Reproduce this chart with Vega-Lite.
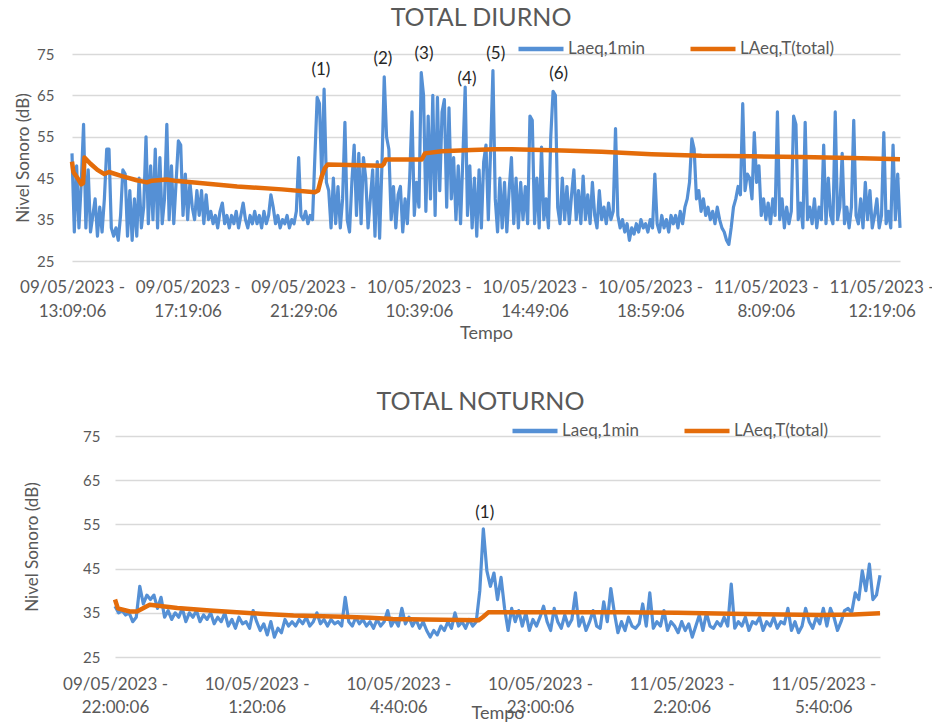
{
"$schema": "https://vega.github.io/schema/vega-lite/v6.json",
"background": "white",
"padding": {"left": 14, "top": 6, "right": 0, "bottom": 0},
"config": {
  "font": "Lato",
  "view": {"stroke": null},
  "axis": {"domain": false, "ticks": false, "gridColor": "#d9d9d9", "gridWidth": 1.5, "labelColor": "#595959", "titleColor": "#595959", "titleFontWeight": "normal", "labelFont": "Lato", "titleFont": "Lato"},
  "legend": {"labelColor": "#595959", "labelFont": "Lato"},
  "title": {"color": "#595959", "fontWeight": "normal", "fontSize": 25, "font": "Lato"}
},
"datasets": {
"dT": [
{"i":0,"v":51},{"i":5,"v":32},{"i":10,"v":48},{"i":15,"v":33},{"i":20,"v":44},{"i":25,"v":58},{"i":30,"v":33},{"i":35,"v":47},{"i":40,"v":32},{"i":45,"v":36},{"i":50,"v":40},{"i":55,"v":31},{"i":60,"v":38},{"i":65,"v":32},{"i":70,"v":40},{"i":75,"v":52},{"i":80,"v":52},{"i":85,"v":33},{"i":90,"v":31},{"i":95,"v":33},
{"i":100,"v":30},{"i":105,"v":36},{"i":110,"v":47},{"i":115,"v":46},{"i":120,"v":31},{"i":125,"v":42},{"i":130,"v":30},{"i":135,"v":40},{"i":140,"v":31},{"i":145,"v":45},{"i":150,"v":33},{"i":155,"v":38},{"i":160,"v":55},{"i":165,"v":34},{"i":170,"v":48},{"i":175,"v":35},{"i":180,"v":52},{"i":185,"v":33},{"i":190,"v":50},{"i":195,"v":34},
{"i":200,"v":40},{"i":205,"v":58},{"i":210,"v":35},{"i":215,"v":48},{"i":220,"v":34},{"i":225,"v":44},{"i":230,"v":54},{"i":235,"v":53},{"i":240,"v":36},{"i":245,"v":46},{"i":250,"v":35},{"i":255,"v":44},{"i":260,"v":38},{"i":265,"v":35},{"i":270,"v":42},{"i":275,"v":36},{"i":280,"v":42},{"i":285,"v":34},{"i":290,"v":41},{"i":295,"v":35},
{"i":300,"v":37},{"i":305,"v":34},{"i":310,"v":36},{"i":315,"v":33},{"i":320,"v":37},{"i":325,"v":39},{"i":330,"v":34},{"i":335,"v":36},{"i":340,"v":33},{"i":345,"v":36},{"i":350,"v":34},{"i":355,"v":37},{"i":360,"v":33},{"i":365,"v":36},{"i":370,"v":39},{"i":375,"v":35},{"i":380,"v":33},{"i":385,"v":36},{"i":390,"v":34},{"i":395,"v":37},
{"i":400,"v":34},{"i":405,"v":36},{"i":410,"v":33},{"i":415,"v":37},{"i":420,"v":34},{"i":425,"v":36},{"i":430,"v":41},{"i":435,"v":38},{"i":440,"v":34},{"i":445,"v":36},{"i":450,"v":33},{"i":455,"v":35},{"i":460,"v":34},{"i":465,"v":36},{"i":470,"v":33},{"i":475,"v":35},{"i":480,"v":34},{"i":485,"v":37},{"i":490,"v":50},{"i":495,"v":36},
{"i":500,"v":35},{"i":505,"v":37},{"i":510,"v":34},{"i":515,"v":36},{"i":520,"v":35},{"i":525,"v":50},{"i":530,"v":64.5},{"i":535,"v":63},{"i":540,"v":45},{"i":545,"v":66.5},{"i":550,"v":44},{"i":555,"v":42},{"i":560,"v":33},{"i":565,"v":45},{"i":570,"v":34},{"i":575,"v":43},{"i":580,"v":33},{"i":585,"v":40},{"i":590,"v":58.5},{"i":595,"v":35},
{"i":600,"v":32},{"i":605,"v":44},{"i":610,"v":53},{"i":615,"v":36},{"i":620,"v":51},{"i":625,"v":34},{"i":630,"v":50},{"i":635,"v":45},{"i":640,"v":33},{"i":645,"v":40},{"i":650,"v":47},{"i":655,"v":31},{"i":660,"v":49},{"i":665,"v":30.5},{"i":670,"v":48},{"i":675,"v":69.5},{"i":680,"v":55},{"i":685,"v":52},{"i":690,"v":35},{"i":695,"v":43},
{"i":700,"v":33},{"i":705,"v":41},{"i":710,"v":43},{"i":715,"v":32},{"i":720,"v":40},{"i":725,"v":34},{"i":730,"v":45},{"i":735,"v":61},{"i":740,"v":36},{"i":745,"v":44},{"i":750,"v":38},{"i":755,"v":70.5},{"i":760,"v":65},{"i":765,"v":37},{"i":770,"v":60},{"i":775,"v":40},{"i":780,"v":65},{"i":785,"v":36},{"i":790,"v":64.5},{"i":795,"v":42},
{"i":800,"v":61},{"i":805,"v":64},{"i":810,"v":38},{"i":815,"v":62},{"i":820,"v":40},{"i":825,"v":50},{"i":830,"v":35},{"i":835,"v":48},{"i":840,"v":34},{"i":845,"v":50},{"i":850,"v":67},{"i":855,"v":36},{"i":860,"v":48},{"i":865,"v":33},{"i":870,"v":45},{"i":875,"v":31},{"i":880,"v":47},{"i":885,"v":33},{"i":890,"v":49},{"i":895,"v":53},
{"i":900,"v":35},{"i":905,"v":52},{"i":910,"v":71},{"i":915,"v":40},{"i":920,"v":32},{"i":925,"v":45},{"i":930,"v":33},{"i":935,"v":44},{"i":940,"v":32},{"i":945,"v":42},{"i":950,"v":50},{"i":955,"v":34},{"i":960,"v":45},{"i":965,"v":33},{"i":970,"v":44},{"i":975,"v":35},{"i":980,"v":43},{"i":985,"v":34},{"i":990,"v":60},{"i":995,"v":59},
{"i":1000,"v":34},{"i":1005,"v":45},{"i":1010,"v":33},{"i":1015,"v":52.5},{"i":1020,"v":35},{"i":1025,"v":40},{"i":1030,"v":33},{"i":1035,"v":55},{"i":1040,"v":66},{"i":1045,"v":65},{"i":1050,"v":38},{"i":1055,"v":34},{"i":1060,"v":45},{"i":1065,"v":35},{"i":1070,"v":43},{"i":1075,"v":34},{"i":1080,"v":41},{"i":1085,"v":47},{"i":1090,"v":35},{"i":1095,"v":42},
{"i":1100,"v":34},{"i":1105,"v":45.5},{"i":1110,"v":35},{"i":1115,"v":41},{"i":1120,"v":34},{"i":1125,"v":44},{"i":1130,"v":36},{"i":1135,"v":33},{"i":1140,"v":42},{"i":1145,"v":35},{"i":1150,"v":38},{"i":1155,"v":34},{"i":1160,"v":39},{"i":1165,"v":35},{"i":1170,"v":37},{"i":1175,"v":57},{"i":1180,"v":36},{"i":1185,"v":33},{"i":1190,"v":35},{"i":1195,"v":32},
{"i":1200,"v":34},{"i":1205,"v":30},{"i":1210,"v":33},{"i":1215,"v":31.5},{"i":1220,"v":34},{"i":1225,"v":32},{"i":1230,"v":35},{"i":1235,"v":33},{"i":1240,"v":34},{"i":1245,"v":32},{"i":1250,"v":35},{"i":1255,"v":33},{"i":1260,"v":46},{"i":1265,"v":34},{"i":1270,"v":32},{"i":1275,"v":36},{"i":1280,"v":33},{"i":1285,"v":35},{"i":1290,"v":32},{"i":1295,"v":36},
{"i":1300,"v":34},{"i":1305,"v":36},{"i":1310,"v":33},{"i":1315,"v":37},{"i":1320,"v":34},{"i":1325,"v":38},{"i":1330,"v":40},{"i":1335,"v":44},{"i":1340,"v":54.5},{"i":1345,"v":52},{"i":1350,"v":40},{"i":1355,"v":42},{"i":1360,"v":37},{"i":1365,"v":40},{"i":1370,"v":36},{"i":1375,"v":38},{"i":1380,"v":35},{"i":1385,"v":37},{"i":1390,"v":34},{"i":1395,"v":38},
{"i":1400,"v":35},{"i":1405,"v":33},{"i":1410,"v":32},{"i":1415,"v":30},{"i":1420,"v":29},{"i":1425,"v":33},{"i":1430,"v":38},{"i":1435,"v":40},{"i":1440,"v":43},{"i":1445,"v":41},{"i":1450,"v":63},{"i":1455,"v":42},{"i":1460,"v":46},{"i":1465,"v":45},{"i":1470,"v":40},{"i":1475,"v":56},{"i":1480,"v":44},{"i":1485,"v":48},{"i":1490,"v":36},{"i":1495,"v":40},
{"i":1500,"v":35},{"i":1505,"v":39},{"i":1510,"v":34},{"i":1515,"v":40},{"i":1520,"v":36},{"i":1525,"v":61},{"i":1530,"v":35},{"i":1535,"v":40},{"i":1540,"v":33},{"i":1545,"v":38},{"i":1550,"v":34},{"i":1555,"v":37},{"i":1560,"v":60},{"i":1565,"v":58},{"i":1570,"v":35},{"i":1575,"v":39},{"i":1580,"v":33},{"i":1585,"v":58.5},{"i":1590,"v":35},{"i":1595,"v":38},
{"i":1600,"v":34},{"i":1605,"v":40},{"i":1610,"v":33},{"i":1615,"v":38},{"i":1620,"v":35},{"i":1625,"v":53},{"i":1630,"v":34},{"i":1635,"v":45},{"i":1640,"v":36},{"i":1645,"v":34},{"i":1650,"v":61},{"i":1655,"v":35},{"i":1660,"v":38},{"i":1665,"v":51},{"i":1670,"v":34},{"i":1675,"v":38},{"i":1680,"v":33},{"i":1685,"v":38},{"i":1690,"v":59},{"i":1695,"v":36},
{"i":1700,"v":34},{"i":1705,"v":40},{"i":1710,"v":33},{"i":1715,"v":44},{"i":1720,"v":35},{"i":1725,"v":42},{"i":1730,"v":33},{"i":1735,"v":36},{"i":1740,"v":40},{"i":1745,"v":33},{"i":1750,"v":36},{"i":1755,"v":56},{"i":1760,"v":34},{"i":1765,"v":37},{"i":1770,"v":33},{"i":1775,"v":53},{"i":1780,"v":35},{"i":1785,"v":46},{"i":1790,"v":33}
],
"oT": [
{"i":0,"v":49},{"i":3,"v":46.5},{"i":12,"v":45},{"i":20,"v":43.5},{"i":24,"v":43.8},{"i":27,"v":50},{"i":40,"v":48.5},{"i":55,"v":47},{"i":70,"v":46},{"i":80,"v":46.5},{"i":108,"v":45.5},{"i":140,"v":44.5},{"i":162,"v":44},{"i":173,"v":44.4},{"i":205,"v":44.7},{"i":227,"v":44.3},{"i":259,"v":44},{"i":357,"v":43},{"i":454,"v":42.3},{"i":525,"v":41.6},{"i":532,"v":42},{"i":540,"v":45.5},{"i":547,"v":47.5},{"i":553,"v":48.3},{"i":670,"v":48},{"i":674,"v":48.4},{"i":678,"v":49.5},{"i":756,"v":49.5},{"i":763,"v":51},{"i":799,"v":51.5},{"i":864,"v":51.8},{"i":914,"v":52},{"i":951,"v":52},{"i":1059,"v":51.7},{"i":1145,"v":51.4},{"i":1253,"v":50.8},{"i":1361,"v":50.4},{"i":1469,"v":50.3},{"i":1577,"v":50.1},{"i":1685,"v":49.9},{"i":1750,"v":49.7},{"i":1790,"v":49.6}
],
"aT": [
{"i":538,"v":71.1,"t":"(1)"},{"i":672,"v":73.8,"t":"(2)"},{"i":761,"v":75,"t":"(3)"},{"i":854,"v":69,"t":"(4)"},{"i":916,"v":75,"t":"(5)"},{"i":1052,"v":70.2,"t":"(6)"}
],
"dN": [
{"i":0,"v":36.5},{"i":5,"v":35},{"i":10,"v":35.5},{"i":15,"v":34.5},{"i":20,"v":35},{"i":25,"v":33},{"i":30,"v":34},{"i":35,"v":41},{"i":40,"v":37},{"i":45,"v":39},{"i":50,"v":38},{"i":55,"v":39},{"i":60,"v":36},{"i":65,"v":38.5},{"i":70,"v":34},{"i":75,"v":35.5},{"i":80,"v":33.5},{"i":85,"v":35},{"i":90,"v":34},{"i":95,"v":36},
{"i":100,"v":33},{"i":105,"v":35},{"i":110,"v":34},{"i":115,"v":35.5},{"i":120,"v":33},{"i":125,"v":34.5},{"i":130,"v":33.5},{"i":135,"v":35},{"i":140,"v":32.5},{"i":145,"v":34},{"i":150,"v":33},{"i":155,"v":35},{"i":160,"v":32},{"i":165,"v":33.5},{"i":170,"v":31.5},{"i":175,"v":34},{"i":180,"v":32.5},{"i":185,"v":33},{"i":190,"v":31.5},{"i":195,"v":35.5},
{"i":200,"v":33},{"i":205,"v":31},{"i":210,"v":32.5},{"i":215,"v":30},{"i":220,"v":33},{"i":225,"v":29.5},{"i":230,"v":31.5},{"i":235,"v":30.5},{"i":240,"v":33.5},{"i":245,"v":32},{"i":250,"v":33},{"i":255,"v":32},{"i":260,"v":33.5},{"i":265,"v":32.5},{"i":270,"v":34},{"i":275,"v":32},{"i":280,"v":33},{"i":285,"v":35},{"i":290,"v":32.5},{"i":295,"v":33.5},
{"i":300,"v":32},{"i":305,"v":33.5},{"i":310,"v":32.5},{"i":315,"v":33},{"i":320,"v":32},{"i":325,"v":38.5},{"i":330,"v":33},{"i":335,"v":32},{"i":340,"v":34},{"i":345,"v":32.5},{"i":350,"v":33.5},{"i":355,"v":32},{"i":360,"v":33},{"i":365,"v":31.5},{"i":370,"v":33.5},{"i":375,"v":32},{"i":380,"v":33},{"i":385,"v":35.5},{"i":390,"v":32},{"i":395,"v":33.5},
{"i":400,"v":32},{"i":405,"v":36},{"i":410,"v":32.5},{"i":415,"v":34},{"i":420,"v":32},{"i":425,"v":33.5},{"i":430,"v":31.5},{"i":435,"v":33},{"i":440,"v":31},{"i":445,"v":29.5},{"i":450,"v":31},{"i":455,"v":30},{"i":460,"v":32},{"i":465,"v":31},{"i":470,"v":33},{"i":475,"v":31.5},{"i":480,"v":35},{"i":485,"v":32},{"i":490,"v":33},{"i":495,"v":31.5},
{"i":500,"v":33.5},{"i":505,"v":32},{"i":510,"v":33},{"i":515,"v":40},{"i":520,"v":54},{"i":525,"v":44.5},{"i":530,"v":41},{"i":535,"v":44},{"i":540,"v":38},{"i":545,"v":43},{"i":550,"v":36},{"i":555,"v":31},{"i":560,"v":36},{"i":565,"v":33},{"i":570,"v":35.5},{"i":575,"v":32},{"i":580,"v":35},{"i":585,"v":31},{"i":590,"v":33.5},{"i":595,"v":32},
{"i":600,"v":34},{"i":605,"v":36.5},{"i":610,"v":33},{"i":615,"v":31},{"i":620,"v":36},{"i":625,"v":33},{"i":630,"v":31.5},{"i":635,"v":34.5},{"i":640,"v":32},{"i":645,"v":33.5},{"i":650,"v":39.5},{"i":655,"v":32},{"i":660,"v":34},{"i":665,"v":31},{"i":670,"v":33},{"i":675,"v":35.5},{"i":680,"v":32},{"i":685,"v":31.5},{"i":690,"v":37.5},{"i":695,"v":33},
{"i":700,"v":40.5},{"i":705,"v":35},{"i":710,"v":30.5},{"i":715,"v":33},{"i":720,"v":31},{"i":725,"v":34},{"i":730,"v":32},{"i":735,"v":31.5},{"i":740,"v":32.5},{"i":745,"v":37},{"i":750,"v":32},{"i":755,"v":39.5},{"i":760,"v":31.5},{"i":765,"v":33},{"i":770,"v":32},{"i":775,"v":35.5},{"i":780,"v":31},{"i":785,"v":33},{"i":790,"v":32},{"i":795,"v":30.5},
{"i":800,"v":33},{"i":805,"v":31},{"i":810,"v":32.5},{"i":815,"v":29.5},{"i":820,"v":32},{"i":825,"v":34.5},{"i":830,"v":31},{"i":835,"v":35},{"i":840,"v":32},{"i":845,"v":31.5},{"i":850,"v":33},{"i":855,"v":32},{"i":860,"v":34},{"i":865,"v":32},{"i":870,"v":41.5},{"i":875,"v":31.5},{"i":880,"v":33},{"i":885,"v":32},{"i":890,"v":34},{"i":895,"v":31},
{"i":900,"v":33},{"i":905,"v":32.5},{"i":910,"v":34},{"i":915,"v":31},{"i":920,"v":33},{"i":925,"v":32},{"i":930,"v":34},{"i":935,"v":31.5},{"i":940,"v":33},{"i":945,"v":32.5},{"i":950,"v":36},{"i":955,"v":31},{"i":960,"v":33},{"i":965,"v":30.5},{"i":970,"v":32},{"i":975,"v":36},{"i":980,"v":33},{"i":985,"v":31.5},{"i":990,"v":34},{"i":995,"v":32.5},
{"i":1000,"v":36},{"i":1005,"v":32},{"i":1010,"v":36},{"i":1015,"v":34},{"i":1020,"v":31},{"i":1025,"v":33},{"i":1030,"v":35.5},{"i":1035,"v":36},{"i":1040,"v":35},{"i":1045,"v":39.5},{"i":1050,"v":38},{"i":1055,"v":44.5},{"i":1060,"v":40},{"i":1065,"v":46},{"i":1070,"v":38},{"i":1075,"v":39},{"i":1080,"v":43.5}
],
"oN": [
{"i":0,"v":38},{"i":4,"v":36},{"i":21,"v":35.3},{"i":31,"v":35.3},{"i":49,"v":36.8},{"i":88,"v":36.1},{"i":134,"v":35.5},{"i":205,"v":34.8},{"i":252,"v":34.4},{"i":322,"v":34.1},{"i":360,"v":33.9},{"i":392,"v":33.6},{"i":462,"v":33.4},{"i":513,"v":33.3},{"i":519,"v":34},{"i":527,"v":35.1},{"i":714,"v":35.1},{"i":794,"v":35},{"i":869,"v":34.8},{"i":996,"v":34.5},{"i":1043,"v":34.6},{"i":1080,"v":34.9}
],
"aN": [
{"i":522,"v":57.6,"t":"(1)"}
],
"sp": [
{"i":0}
]
},
"vconcat": [
{
 "hconcat": [
 {
  "title": {"text": "TOTAL DIURNO", "dx": -5, "offset": 14},
  "width": 828,
  "height": 207,
  "layer": [
    {
      "data": {"name": "dT"},
      "mark": {"type": "line", "strokeWidth": 3.2, "strokeJoin": "round"},
      "encoding": {
        "x": {"field": "i", "type": "quantitative", "scale": {"domain": [0, 1790], "nice": false, "zero": false},
          "axis": {"values": [0, 250, 500, 750, 1000, 1250, 1500, 1750], "grid": false, "title": "Tempo", "titleFontSize": 18, "titlePadding": 5, "labelFontSize": 17, "labelPadding": 18, "labelLineHeight": 24, "labelOverlap": false, "labelFlush": false, "labelBound": false,
            "labelExpr": "datum.value==0?['09/05/2023 -','13:09:06']:datum.value==250?['09/05/2023 -','17:19:06']:datum.value==500?['09/05/2023 -','21:29:06']:datum.value==750?['10/05/2023 -','10:39:06']:datum.value==1000?['10/05/2023 -','14:49:06']:datum.value==1250?['10/05/2023 -','18:59:06']:datum.value==1500?['11/05/2023 -','8:09:06']:['11/05/2023 -','12:19:06']"}},
        "y": {"field": "v", "type": "quantitative", "scale": {"domain": [25, 75], "nice": false, "zero": false},
          "axis": {"values": [25, 35, 45, 55, 65, 75], "title": "Nivel Sonoro (dB)", "titleFontSize": 17, "titlePadding": 4, "labelFontSize": 15, "labelPadding": 18}},
        "color": {"datum": "Laeq,1min", "scale": {"domain": ["Laeq,1min", "LAeq,T(total)"], "range": ["#5590d5", "#e46c0a"]},
          "legend": {"orient": "none", "legendX": 444, "legendY": -30, "direction": "horizontal", "title": null, "symbolType": "stroke", "symbolSize": 2025, "symbolStrokeWidth": 4.5, "labelFontSize": 17, "labelOffset": 2, "columnPadding": 36}}
      }
    },
    {
      "data": {"name": "oT"},
      "mark": {"type": "line", "strokeWidth": 4.5, "strokeJoin": "round"},
      "encoding": {
        "x": {"field": "i", "type": "quantitative"},
        "y": {"field": "v", "type": "quantitative"},
        "color": {"datum": "LAeq,T(total)"}
      }
    },
    {
      "data": {"name": "aT"},
      "mark": {"type": "text", "fontSize": 17, "color": "#262626", "baseline": "middle"},
      "encoding": {
        "x": {"field": "i", "type": "quantitative"},
        "y": {"field": "v", "type": "quantitative"},
        "text": {"field": "t"}
      }
    }
  ]
 }
 ]
},
{
 "hconcat": [
 {
  "width": 1,
  "height": 221,
  "data": {"name": "sp"},
  "mark": {"type": "point", "opacity": 0, "size": 1}
 },
 {
  "title": {"text": "TOTAL NOTURNO", "dx": -17, "offset": 14},
  "width": 765,
  "height": 221,
  "layer": [
    {
      "data": {"name": "dN"},
      "mark": {"type": "line", "strokeWidth": 3.2, "strokeJoin": "round"},
      "encoding": {
        "x": {"field": "i", "type": "quantitative", "scale": {"domain": [0, 1080], "nice": false, "zero": false},
          "axis": {"values": [0, 200, 400, 600, 800, 1000], "grid": false, "title": "Tempo", "titleFontSize": 18, "titlePadding": -11, "labelFontSize": 17, "labelPadding": 19, "labelLineHeight": 23, "labelOverlap": false, "labelFlush": false, "labelBound": false,
            "labelExpr": "datum.value==0?['09/05/2023 -','22:00:06']:datum.value==200?['10/05/2023 -','1:20:06']:datum.value==400?['10/05/2023 -','4:40:06']:datum.value==600?['10/05/2023 -','23:00:06']:datum.value==800?['11/05/2023 -','2:20:06']:['11/05/2023 -','5:40:06']"}},
        "y": {"field": "v", "type": "quantitative", "scale": {"domain": [25, 75], "nice": false, "zero": false},
          "axis": {"values": [25, 35, 45, 55, 65, 75], "title": "Nivel Sonoro (dB)", "titleFontSize": 17, "titlePadding": 41, "labelFontSize": 15, "labelPadding": 15}},
        "color": {"datum": "Laeq,1min", "scale": {"domain": ["Laeq,1min", "LAeq,T(total)"], "range": ["#5590d5", "#e46c0a"]},
          "legend": {"orient": "none", "legendX": 438, "legendY": -30, "direction": "horizontal", "title": null, "symbolType": "stroke", "symbolSize": 2025, "symbolStrokeWidth": 4.5, "labelFontSize": 17, "labelOffset": 2, "columnPadding": 36}}
      }
    },
    {
      "data": {"name": "oN"},
      "mark": {"type": "line", "strokeWidth": 4.5, "strokeJoin": "round"},
      "encoding": {
        "x": {"field": "i", "type": "quantitative"},
        "y": {"field": "v", "type": "quantitative"},
        "color": {"datum": "LAeq,T(total)"}
      }
    },
    {
      "data": {"name": "aN"},
      "mark": {"type": "text", "fontSize": 17, "color": "#262626", "baseline": "middle"},
      "encoding": {
        "x": {"field": "i", "type": "quantitative"},
        "y": {"field": "v", "type": "quantitative"},
        "text": {"field": "t"}
      }
    }
  ]
 }
 ],
 "spacing": -50
}
],
"spacing": 48,
"resolve": {"scale": {"color": "independent"}, "legend": {"color": "independent"}}
}
